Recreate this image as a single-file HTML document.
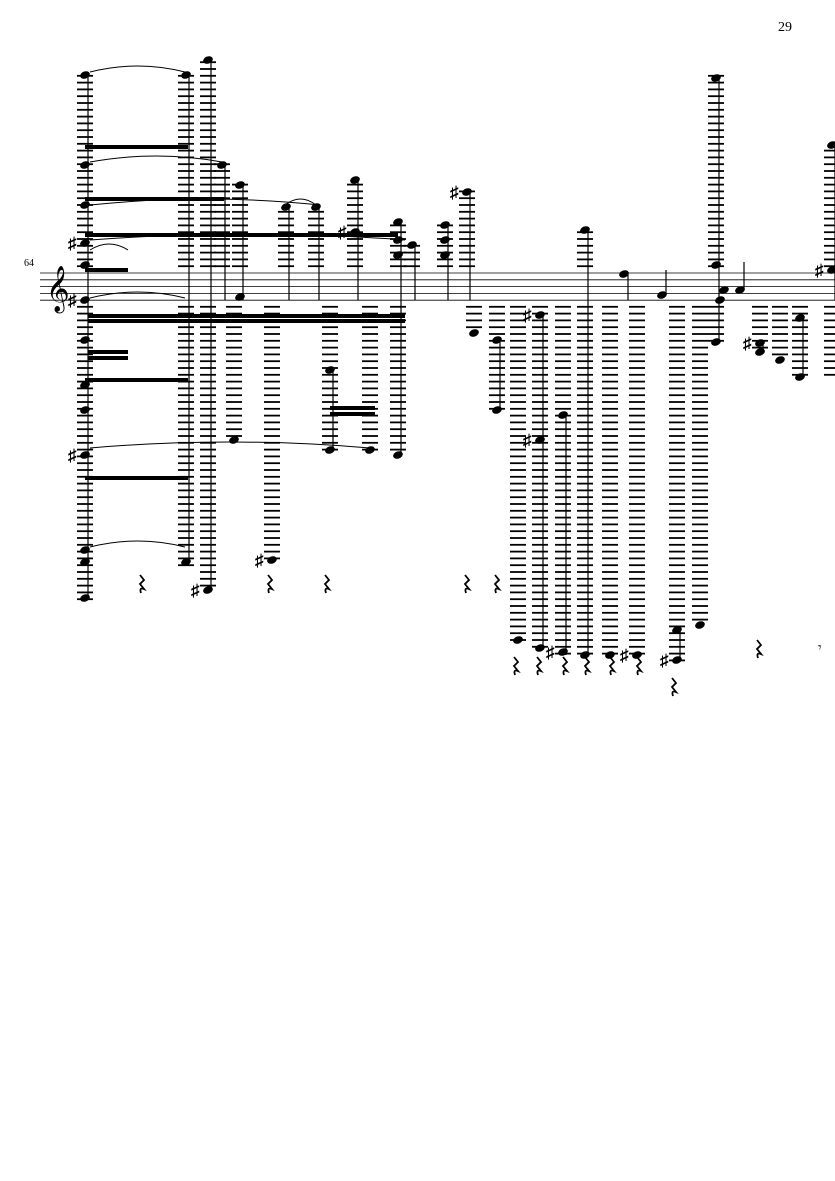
<!DOCTYPE html>
<html><head><meta charset="utf-8"><style>
html,body{margin:0;padding:0;background:#fff;width:835px;height:1181px;overflow:hidden}
svg{display:block}
text{font-family:"Liberation Serif","DejaVu Serif",serif;fill:#000}
</style></head><body>
<svg id="s" width="835" height="1181" viewBox="0 0 835 1181" xmlns="http://www.w3.org/2000/svg">
<text x="778" y="31" font-size="14">29</text>
<text x="24" y="266" font-size="10">64</text>
<text x="46" y="302" font-size="40">𝄞</text>
<g id="g" stroke="#000" fill="#000"></g>
</svg>
<script>
var g=document.getElementById('g'),h='';
var T=273,B=300,S=6.8;
for(var i=0;i<5;i++){var y=T+i*S;h+='<line x1="40" x2="835" y1="'+y+'" y2="'+y+'" stroke-width="0.8"/>';}
function L(x,a,b){
 if(a<T){for(var y=T-S;y>=a-1;y-=S)h+='<line x1="'+(x-8)+'" x2="'+(x+8)+'" y1="'+y+'" y2="'+y+'" stroke-width="1.8"/>';}
 if(b>B+3){for(var y=B+S;y<=b+1;y+=S)h+='<line x1="'+(x-8)+'" x2="'+(x+8)+'" y1="'+y+'" y2="'+y+'" stroke-width="1.8"/>';}
}
function N(x,y,sh){h+='<ellipse cx="'+x+'" cy="'+y+'" rx="5" ry="3.6" transform="rotate(-20 '+x+' '+y+')" stroke="none"/>';
 if(sh)h+='<text x="'+(x-17)+'" y="'+(y+6)+'" font-size="17" font-weight="bold" stroke="none">♯</text>';}
function St(x,a,b){h+='<line x1="'+x+'" x2="'+x+'" y1="'+a+'" y2="'+b+'" stroke-width="1.2"/>';}
function Bm(x1,x2,y){h+='<line x1="'+x1+'" x2="'+x2+'" y1="'+y+'" y2="'+y+'" stroke-width="4"/>';}
function R(x,y){h+='<path d="M'+x+' '+y+' l4 5 l-4 4 l4 5 q-5 -2 -3 4" fill="none" stroke-width="1.8"/>';}
function Sl(x1,x2,y){h+='<path d="M'+x1+' '+y+' Q'+((x1+x2)/2)+' '+(y-12)+' '+x2+' '+y+'" fill="none" stroke-width="1"/>';}
var C=[
 [85,75,600,[75,165,205,243,265,300,340,385,410,455,550,562,598]],
 [186,75,565,[75,562]],
 [208,60,590,[60,590]],
 [222,165,273,[165]],
 [240,185,273,[185,297]],
 [234,300,440,[440]],
 [272,300,560,[560]],
 [286,207,273,[207]],[316,207,273,[207]],
 [330,300,450,[370,450]],
 [355,180,300,[180,232]],
 [370,300,450,[450]],
 [398,220,455,[222,240,255,455]],
 [412,245,273,[245]],
 [445,225,273,[225,240,255]],
 [467,190,273,[192]],
 [474,300,333,[333]],
 [497,300,410,[340,410]],
 [518,300,640,[640]],
 [540,300,650,[315,440,648]],
 [563,300,655,[415,652]],
 [585,230,655,[230,655]],
 [610,300,655,[655]],
 [637,300,655,[655]],
 [677,300,660,[630,660]],
 [700,300,625,[625]],
 [716,75,345,[78,265,342]],
 [760,300,352,[343,352]],
 [780,300,360,[360]],
 [800,300,377,[318,377]],
 [832,145,375,[145,270]]
];
var sharps={"208,590":1,"540,315":1,"540,440":1,"563,652":1,"637,655":1,"677,660":1,"355,232":1,"467,192":1,"760,343":1,"832,270":1,"272,560":1,"85,243":1,"85,300":1,"85,455":1};
C.forEach(function(c){L(c[0],c[1],c[2]);var ns=c[3];St(c[0]+3,Math.min.apply(0,ns),Math.max.apply(0,ns.concat([c[1]<T?300:c[2]])));
 ns.forEach(function(y){N(c[0],y,sharps[c[0]+','+y]);});});
N(624,274);St(628,274,300);N(662,295);St(666,270,295);N(740,290);St(744,262,290);N(720,300);N(724,290);
Bm(85,188,147);Bm(85,224,199);Bm(85,398,235);Bm(88,405,316);Bm(88,405,321);Bm(88,128,352);Bm(88,128,358);Bm(85,188,380);Bm(85,188,478);Bm(330,375,408);Bm(330,375,414);Bm(85,128,270);
Sl(90,185,72);Sl(90,222,162);Sl(90,320,205);Sl(90,405,240);Sl(90,185,298);Sl(90,370,448);Sl(90,185,547);Sl(285,316,205);Sl(90,128,250);
[[140,575],[268,575],[325,575],[465,575],[495,575],[514,657],[537,657],[563,657],[585,657],[610,657],[637,657],[672,678],[757,640]].forEach(function(r){R(r[0],r[1]);});
h+='<text x="818" y="652" font-size="14" stroke="none">𝄾</text>';
g.innerHTML=h;
</script>
</body></html>
